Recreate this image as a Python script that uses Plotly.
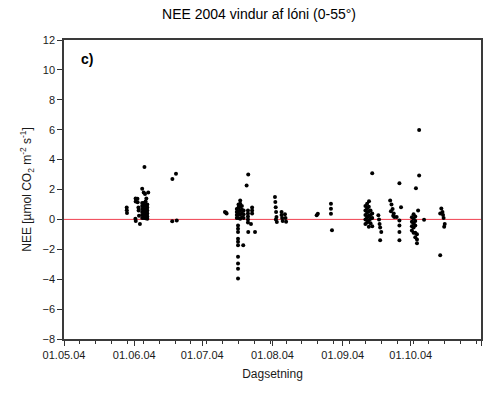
import plotly.graph_objects as go
import pandas as pd

# ---- data ----
jun_dates = [
    "2004-05-28 16:00", "2004-05-28 17:00", "2004-05-28 19:00",
    "2004-06-01 14:00", "2004-06-01 15:00", "2004-06-01 12:00", "2004-06-01 16:00",
    "2004-06-02 10:00", "2004-06-02 12:00", "2004-06-02 20:00", "2004-06-02 22:00",
    "2004-06-03 02:00", "2004-06-03 12:00", "2004-06-04 12:00", "2004-06-05 12:00",
    "2004-06-05 04:00", "2004-06-05 18:00", "2004-06-06 08:00", "2004-06-07 04:00",
    "2004-06-04 12:00", "2004-06-04 12:00", "2004-06-04 12:00", "2004-06-04 12:00", "2004-06-04 12:00", "2004-06-04 12:00",
    "2004-06-05 06:00", "2004-06-05 06:00", "2004-06-05 06:00", "2004-06-05 06:00", "2004-06-05 06:00", "2004-06-05 06:00",
    "2004-06-06 00:00", "2004-06-06 00:00", "2004-06-06 00:00", "2004-06-06 00:00", "2004-06-06 00:00", "2004-06-06 00:00",
    "2004-06-06 18:00", "2004-06-06 18:00", "2004-06-06 18:00", "2004-06-06 18:00", "2004-06-06 18:00", "2004-06-06 18:00",
    "2004-06-17 20:00", "2004-06-19 10:00", "2004-06-17 18:00", "2004-06-19 18:00",
]
jun_nee = [
    0.80, 0.62, 0.42,
    1.40, 1.20, 0.05, -0.10,
    1.38, 1.15, 0.80, 0.60,
    0.25, -0.30, 2.05, 3.50,
    1.80, 1.70, 1.40, 1.80,
    1.10, 0.90, 0.70, 0.50, 0.30, 0.10,
    1.10, 0.90, 0.70, 0.50, 0.30, 0.10,
    1.20, 0.95, 0.70, 0.50, 0.30, 0.08,
    1.00, 0.80, 0.60, 0.40, 0.20, 0.05,
    2.70, 3.05, -0.13, -0.07,
]

jul_dates = [
    "2004-07-11 00:00", "2004-07-11 18:00", "2004-07-11 12:00",
    "2004-07-21 07:00", "2004-07-20 14:00",
    "2004-07-16 06:00", "2004-07-16 06:00", "2004-07-16 06:00", "2004-07-16 06:00",
    "2004-07-17 00:00", "2004-07-17 00:00", "2004-07-17 00:00", "2004-07-17 00:00", "2004-07-17 00:00",
    "2004-07-17 18:00", "2004-07-17 18:00", "2004-07-17 18:00", "2004-07-17 18:00", "2004-07-17 18:00", "2004-07-17 18:00",
    "2004-07-18 12:00", "2004-07-18 12:00", "2004-07-18 12:00", "2004-07-18 12:00",
    "2004-07-19 06:00", "2004-07-19 06:00", "2004-07-19 06:00",
    "2004-07-16 19:00", "2004-07-16 19:00", "2004-07-16 19:00", "2004-07-16 19:00", "2004-07-16 19:00",
    "2004-07-16 19:00", "2004-07-16 19:00", "2004-07-16 19:00", "2004-07-16 19:00", "2004-07-16 19:00",
    "2004-07-19 02:00",
    "2004-07-23 00:00", "2004-07-23 00:00", "2004-07-23 00:00",
    "2004-07-21 04:00", "2004-07-21 04:00", "2004-07-21 04:00", "2004-07-21 04:00", "2004-07-21 04:00",
    "2004-07-22 12:00", "2004-07-21 07:00", "2004-07-24 07:00",
]
jul_nee = [
    0.50, 0.40, 0.45,
    3.00, 2.27,
    0.70, 0.50, 0.30, 0.10,
    1.00, 0.80, 0.55, 0.35, 0.10,
    1.27, 1.05, 0.85, 0.60, 0.35, 0.05,
    0.90, 0.65, 0.40, 0.15,
    0.60, 0.35, 0.10,
    -0.40, -0.62, -0.84, -1.29, -1.50, -1.73, -2.50, -2.95, -3.30, -3.95,
    -1.73,
    0.80, 0.60, 0.40,
    0.60, 0.40, 0.20, 0.00, -0.20,
    -0.30, -0.84, -0.84,
]

aug_dates = [
    "2004-08-02 02:00", "2004-08-02 06:00", "2004-08-02 10:00", "2004-08-02 14:00",
    "2004-08-02 18:00", "2004-08-02 22:00", "2004-08-02 12:00",
    "2004-08-05 00:00", "2004-08-05 06:00", "2004-08-05 12:00", "2004-08-05 00:00",
    "2004-08-06 12:00", "2004-08-06 18:00", "2004-08-07 00:00",
    "2004-08-20 12:00", "2004-08-21 00:00",
    "2004-08-26 19:00", "2004-08-26 19:00", "2004-08-26 19:00", "2004-08-27 06:00",
]
aug_nee = [
    1.49, 1.16, 0.82, 0.49,
    0.16, -0.18, 0.00,
    0.30, 0.10, -0.10, 0.50,
    0.35, 0.10, -0.15,
    0.27, 0.38,
    1.05, 0.72, 0.38, -0.73,
]

sep_dates = [
    "2004-09-14 00:00", "2004-09-12 14:00",
    "2004-09-11 00:00", "2004-09-11 00:00", "2004-09-11 00:00", "2004-09-11 00:00", "2004-09-11 00:00",
    "2004-09-11 18:00", "2004-09-11 18:00", "2004-09-11 18:00", "2004-09-11 18:00", "2004-09-11 18:00",
    "2004-09-12 12:00", "2004-09-12 12:00", "2004-09-12 12:00", "2004-09-12 12:00", "2004-09-12 12:00",
    "2004-09-13 06:00", "2004-09-13 06:00", "2004-09-13 06:00", "2004-09-13 06:00",
    "2004-09-14 00:00", "2004-09-14 00:00", "2004-09-14 00:00",
    "2004-09-16 17:00", "2004-09-17 00:00", "2004-09-17 06:00", "2004-09-17 12:00", "2004-09-18 00:00",
    "2004-09-17 12:00",
    "2004-09-21 22:00", "2004-09-22 12:00", "2004-09-23 00:00", "2004-09-23 12:00", "2004-09-23 18:00",
    "2004-09-22 06:00", "2004-09-23 06:00",
    "2004-09-26 17:00",
    "2004-09-26 00:00", "2004-09-26 00:00", "2004-09-26 00:00", "2004-09-26 00:00", "2004-09-26 00:00",
    "2004-09-24 19:00",
]
sep_nee = [
    3.09, 1.22,
    0.90, 0.60, 0.30, 0.00, -0.30,
    1.05, 0.75, 0.45, 0.15, -0.20,
    0.85, 0.55, 0.25, -0.05, -0.50,
    0.60, 0.30, 0.05, -0.25,
    0.40, 0.10, -0.45,
    0.27, 0.00, -0.30, -0.55, -0.84,
    -1.40,
    1.27, 1.00, 0.70, 0.40, 0.16,
    0.55, 0.25,
    0.82,
    2.42, -0.07, -0.40, -0.84, -1.40,
    0.16,
]

oct_dates = [
    "2004-10-04 17:00", "2004-10-04 17:00", "2004-10-03 07:00",
    "2004-10-04 06:00",
    "2004-10-01 12:00", "2004-10-01 12:00", "2004-10-01 12:00", "2004-10-01 12:00",
    "2004-10-02 06:00", "2004-10-02 06:00", "2004-10-02 06:00", "2004-10-02 06:00", "2004-10-02 06:00",
    "2004-10-03 00:00", "2004-10-03 00:00", "2004-10-03 00:00", "2004-10-03 00:00", "2004-10-03 00:00",
    "2004-10-03 18:00", "2004-10-03 18:00", "2004-10-03 18:00",
    "2004-10-06 21:00",
    "2004-10-14 00:00", "2004-10-14 12:00", "2004-10-15 00:00", "2004-10-15 06:00",
    "2004-10-15 12:00", "2004-10-16 00:00", "2004-10-15 18:00",
    "2004-10-14 00:00",
]
oct_nee = [
    5.98, 2.93, 2.09,
    0.60,
    0.15, -0.15, -0.45, -0.75,
    0.35, 0.05, -0.25, -0.55, -0.90,
    0.20, -0.10, -0.40, -0.90, -1.20,
    -1.00, -1.35, -1.60,
    -0.02,
    0.40, 0.73, 0.50, 0.30,
    0.10, -0.30, -0.50,
    -2.40,
]

month_ticks = ["2004-05-01", "2004-06-01", "2004-07-01", "2004-08-01",
               "2004-09-01", "2004-10-01", "2004-11-01"]
month_labels = ["01.05.04", "01.06.04", "01.07.04", "01.08.04",
                "01.09.04", "01.10.04", "01.11.04"]
y_ticks = [-8, -6, -4, -2, 0, 2, 4, 6, 8, 10, 12]

dates = pd.to_datetime(jun_dates + jul_dates + aug_dates + sep_dates + oct_dates)
nee = jun_nee + jul_nee + aug_nee + sep_nee + oct_nee

FONT = "Liberation Sans, Arial, sans-serif"
TXT = "#1a1a1a"

fig = go.Figure()
fig.add_trace(go.Scatter(
    x=dates, y=nee, mode="markers",
    marker=dict(color="black", size=4, symbol="circle", line=dict(width=0)),
    showlegend=False,
))

fig.add_shape(type="line", xref="paper", yref="y", x0=0, x1=1, y0=0, y1=0,
              line=dict(color="#f04050", width=1), layer="below")

fig.add_annotation(text="<b>c)</b>", xref="paper", yref="paper", x=0.035, y=0.935,
                   xanchor="left", yanchor="middle", showarrow=False,
                   font=dict(family=FONT, size=14, color="black"))

fig.update_layout(
    width=502, height=394,
    margin=dict(l=64, r=21, t=40, b=55),
    paper_bgcolor="white", plot_bgcolor="white",
    font=dict(family=FONT, size=11, color=TXT),
    title=dict(text="NEE 2004 vindur af lóni (0-55°)", x=0.516, xanchor="center",
               y=0.963, yanchor="middle", font=dict(family=FONT, size=14, color="black")),
)

fig.update_xaxes(
    range=["2004-05-01", "2004-11-01"],
    tickmode="array", tickvals=month_ticks, ticktext=month_labels,
    ticks="outside", ticklen=5, tickwidth=1, tickcolor="#333",
    minor=dict(ticks="outside", ticklen=3, tickwidth=1, tickcolor="#333",
               tickmode="linear", tick0="2004-05-01", dtick=7 * 86400000),
    showgrid=False, zeroline=False,
    showline=True, linecolor="#3a3a3a", linewidth=1.5, mirror=True,
    tickfont=dict(family=FONT, size=11, color=TXT),
    title=dict(text="Dagsetning", font=dict(family=FONT, size=12, color=TXT), standoff=10),
)
fig.update_yaxes(
    range=[-8, 12], tickmode="array", tickvals=y_ticks,
    ticks="outside", ticklen=5, tickwidth=1, tickcolor="#333",
    showgrid=False, zeroline=False,
    showline=True, linecolor="#3a3a3a", linewidth=1.5, mirror=True,
    tickfont=dict(family=FONT, size=11, color=TXT),
    title=dict(text="NEE [µmol CO<sub>2</sub> m<sup>-2</sup> s<sup>-1</sup>]",
               font=dict(family=FONT, size=12, color=TXT), standoff=8),
)

fig.write_html("out.html")
